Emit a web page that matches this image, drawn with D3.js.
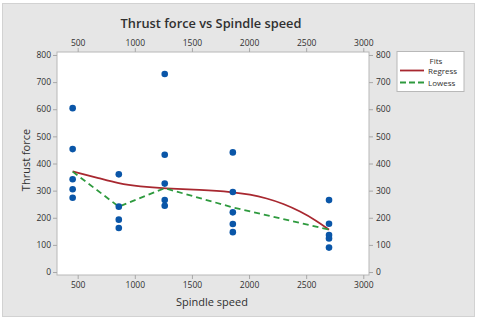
<!DOCTYPE html>
<html>
<head>
<meta charset="utf-8">
<script src="https://cdn.jsdelivr.net/npm/d3@7"></script>
<style>
  body { margin: 0; background: #fff; }
  svg text { font-family: "Open Sans", "Noto Sans", sans-serif; fill: #303030; }
  .axis path, .axis line { stroke: #a8a8a8; }
</style>
</head>
<body>
<script>
// spindle speed groups and the measured thrust force at each
const speeds = [456, 860, 1262, 1858, 2700];
const thrust = [
  [604, 453, 342, 305, 274],
  [360, 241, 193, 162],
  [730, 432, 326, 265, 244],
  [441, 295, 220, 177, 147],
  [265, 178, 136, 124, 90]
];

// fitted lines
const regressX = [456, 695, 855, 1045, 1260, 1570, 1860, 2008, 2154, 2300, 2446, 2592, 2700];
const regressY = [371, 345, 326, 315, 308, 303, 295, 286, 272, 252, 224, 189, 156];
const lowessX = [456, 860, 1262, 1858, 2700];
const lowessY = [370, 241, 309, 238, 156];

const xTicks = [500, 1000, 1500, 2000, 2500, 3000];
const yTicks = [0, 100, 200, 300, 400, 500, 600, 700, 800];

const w = 480, h = 324;
const margin = { top: 52, right: 111, bottom: 49, left: 57 };

const svg = d3.select("body").append("svg")
  .attr("width", w)
  .attr("height", h);

// grey panel behind everything
svg.append("rect")
  .attr("x", 2.5).attr("y", 3.5)
  .attr("width", 472).attr("height", 313)
  .attr("fill", "#e6e6e6")
  .attr("stroke", "#d2d2d2");

const xScale = d3.scaleLinear().domain([319, 3050]).range([margin.left, w - margin.right]);
const yScale = d3.scaleLinear().domain([-11, 811]).range([h - margin.bottom, margin.top]);

svg.append("rect")
  .attr("x", margin.left).attr("y", margin.top)
  .attr("width", xScale.range()[1] - margin.left)
  .attr("height", yScale.range()[0] - margin.top)
  .attr("fill", "#fff")
  .attr("stroke", "#b8b8b8");

function styleAxis(g) {
  g.attr("class", "axis");
  g.select(".domain").remove();
  g.selectAll("text").style("font-size", "8.5px").attr("fill", "#303030");
}

const fmt = d3.format("d");

svg.append("g")
  .attr("transform", `translate(0,${h - margin.bottom})`)
  .call(d3.axisBottom(xScale).tickValues(xTicks).tickFormat(fmt).tickSize(4).tickPadding(3))
  .call(styleAxis);

svg.append("g")
  .attr("transform", `translate(0,${margin.top})`)
  .call(d3.axisTop(xScale).tickValues(xTicks).tickFormat(fmt).tickSize(4).tickPadding(2))
  .call(styleAxis);

svg.append("g")
  .attr("transform", `translate(${margin.left},0)`)
  .call(d3.axisLeft(yScale).tickValues(yTicks).tickSize(4).tickPadding(2))
  .call(styleAxis);

svg.append("g")
  .attr("transform", `translate(${w - margin.right},0)`)
  .call(d3.axisRight(yScale).tickValues(yTicks).tickSize(4).tickPadding(3))
  .call(styleAxis);

// lines
const regress = regressX.map((x, i) => [x, regressY[i]]);
const lowess = lowessX.map((x, i) => [x, lowessY[i]]);

svg.append("path")
  .datum(regress)
  .attr("fill", "none")
  .attr("stroke", "#a82830")
  .attr("stroke-width", 1.8)
  .attr("d", d3.line().x(d => xScale(d[0])).y(d => yScale(d[1])).curve(d3.curveBasis));

svg.append("path")
  .datum(lowess)
  .attr("fill", "none")
  .attr("stroke", "#2e9a3e")
  .attr("stroke-width", 1.8)
  .attr("stroke-dasharray", "6,4")
  .attr("d", d3.line().x(d => xScale(d[0])).y(d => yScale(d[1])));

// points
const points = [];
speeds.forEach((s, i) => thrust[i].forEach(v => points.push({ x: s, y: v })));

svg.selectAll("circle.dot")
  .data(points)
  .enter()
  .append("circle")
  .attr("class", "dot")
  .attr("cx", d => xScale(d.x))
  .attr("cy", d => yScale(d.y))
  .attr("r", 3.3)
  .attr("fill", "#0a56a8");

// titles
svg.append("text")
  .attr("x", 211).attr("y", 28)
  .attr("text-anchor", "middle")
  .style("font-size", "12.8px")
  .style("font-weight", "600")
  .text("Thrust force vs Spindle speed");

svg.append("text")
  .attr("x", 212).attr("y", 306)
  .attr("text-anchor", "middle")
  .style("font-size", "11px")
  .style("font-weight", "500")
  .text("Spindle speed");

svg.append("text")
  .attr("transform", "translate(30,160) rotate(-90)")
  .attr("text-anchor", "middle")
  .style("font-size", "11px")
  .style("font-weight", "500")
  .text("Thrust force");

// legend
const legend = svg.append("g");
legend.append("rect")
  .attr("x", 397).attr("y", 51.5)
  .attr("width", 67).attr("height", 40)
  .attr("fill", "#fff")
  .attr("stroke", "#b8b8b8");

legend.append("text")
  .attr("x", 436).attr("y", 64)
  .attr("text-anchor", "middle")
  .style("font-size", "8px")
  .text("Fits");

const legendItems = [
  { name: "Regress", color: "#a82830", dash: null },
  { name: "Lowess", color: "#2e9a3e", dash: "6,3" }
];

legendItems.forEach((item, i) => {
  const y = 70.5 + i * 12;
  legend.append("line")
    .attr("x1", 400).attr("x2", 424)
    .attr("y1", y).attr("y2", y)
    .attr("stroke", item.color)
    .attr("stroke-width", 1.8)
    .attr("stroke-dasharray", item.dash);
  legend.append("text")
    .attr("x", 428).attr("y", y + 3)
    .style("font-size", "8px")
    .text(item.name);
});
</script>
</body>
</html>
